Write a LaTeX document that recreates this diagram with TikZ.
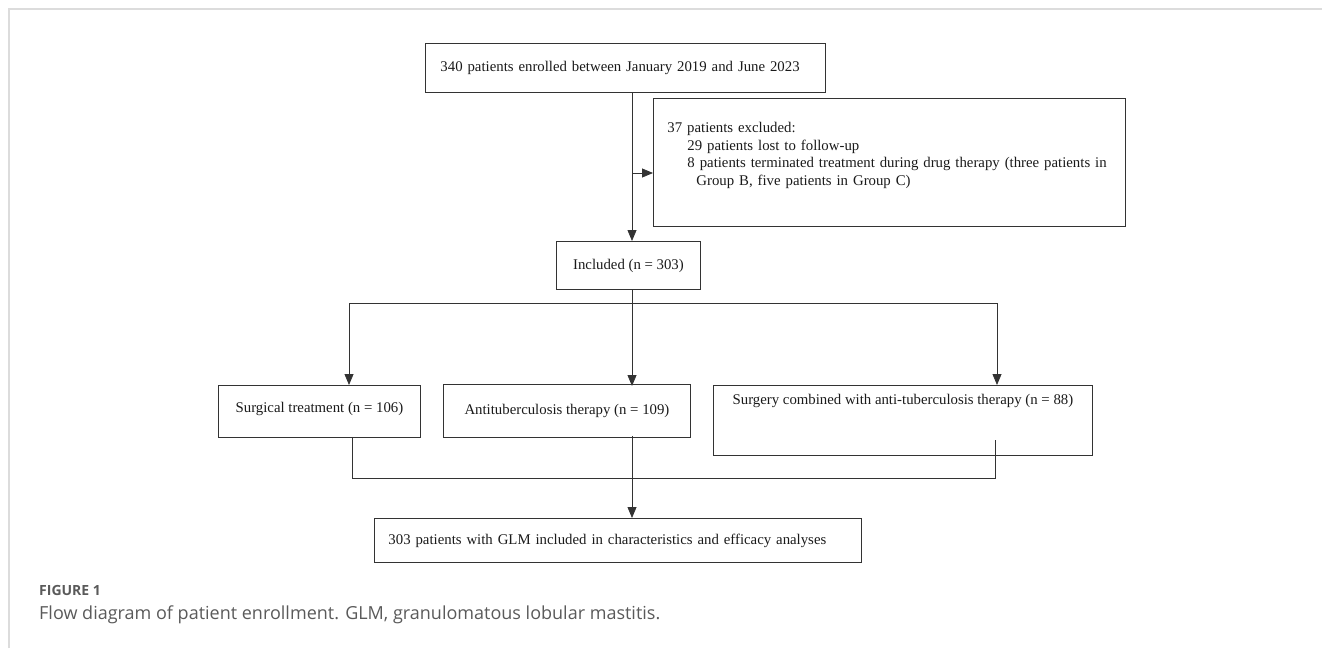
\documentclass[tikz,border=0pt]{standalone}
\usepackage{fontspec}
\setmainfont{Liberation Serif}
\newfontfamily\capfont{Open Sans}
\usepackage{tikz}
\usetikzlibrary{arrows.meta,calc,positioning}

\definecolor{linegray}{HTML}{333333}
\definecolor{textgray}{HTML}{1A1A1A}
\definecolor{capgray}{HTML}{5A5A5A}
\definecolor{framegray}{HTML}{DCDCDC}

\begin{document}
\begin{tikzpicture}[x=1pt,y=-1pt,every node/.style={font=\fontsize{14.8}{17.5}\selectfont,text=textgray}]

% Define block styles
\tikzstyle{box} = [rectangle, draw=linegray, line width=0.9pt, anchor=north west,
    inner ysep=2pt]
\tikzstyle{line} = [draw=linegray, line width=0.8pt, -{Triangle[length=11pt,width=9pt]}]
\tikzstyle{link} = [draw=linegray, line width=0.8pt]

\useasboundingbox (0,0) rectangle (1322,648);
\draw[framegray, line width=2pt] (9,648) -- (9,9) -- (1322,9);

\node [box, align=left, inner xsep=15pt, text width=370pt, minimum height=49pt] (enrol) at (425,43)
    {\mbox{340 patients enrolled between January 2019 and June 2023}};
\node [box, align=left, inner xsep=14pt, text width=444pt, minimum height=128pt] (excl) at (653,98)
    {\mbox{37 patients excluded:}\\
     \hspace*{20pt}\mbox{29 patients lost to follow-up}\\
     \hspace*{20pt}\mbox{8 patients terminated treatment during drug therapy (three patients in}\\
     \hspace*{29pt}\mbox{Group B, five patients in Group C)}\par\vspace{14pt}};
\node [box, minimum width=144pt, minimum height=48pt] (incl) at (556,241)
    {Included (n = 303)};

\node [box, minimum width=202pt, minimum height=52pt, text depth=8pt] (surg) at (218,385)
    {Surgical treatment (n = 106)};
\node [box, minimum width=247pt, minimum height=53pt] (anti) at (443,384)
    {Antituberculosis therapy (n = 109)};
\node [box, align=center, minimum width=379pt, minimum height=70pt] (comb) at (713,385)
    {Surgery combined with anti-tuberculosis therapy (n = 88)\\[24pt]};

\node [box, align=left, inner xsep=14pt, text width=459pt, minimum height=44pt] (final) at (374,518)
    {\mbox{303 patients with GLM included in characteristics and efficacy analyses}};

\coordinate (trunk) at (632,303);
\coordinate (lsplit) at (349,303);
\coordinate (rsplit) at (997,303);
\coordinate (exarr) at (632,173);
\coordinate (ljoin) at (352,478);
\coordinate (rjoin) at (995,478);

\draw[line] (enrol.south -| trunk) -- (incl.north -| trunk);
\draw[line] (exarr) -- (exarr -| excl.west);

\draw[link] (incl.south -| trunk) -- (trunk);
\draw[link] (lsplit) -- (rsplit);
\draw[line] (lsplit) -- (lsplit |- surg.north);
\draw[line] (trunk) -- ([yshift=-2pt]trunk |- anti.north);
\draw[line] (rsplit) -- (rsplit |- comb.north);

\draw[link] ([yshift=1pt]surg.south -| ljoin) -- (ljoin) -- (rjoin) -- ([yshift=16pt]comb.south -| rjoin);
\draw[line] ([yshift=2pt]anti.south -| trunk) -- (final.north -| trunk);

\node [anchor=base west, inner sep=0pt, font=\capfont\bfseries\fontsize{14}{16}\selectfont, text=capgray] (figlabel) at (39,595) {FIGURE 1};
\node [anchor=base west, inner sep=0pt, font=\capfont\fontsize{18}{20}\selectfont, text=capgray] (figcaption) at (39,619)
    {Flow diagram of patient enrollment. GLM, granulomatous lobular mastitis.};

\end{tikzpicture}
\end{document}
